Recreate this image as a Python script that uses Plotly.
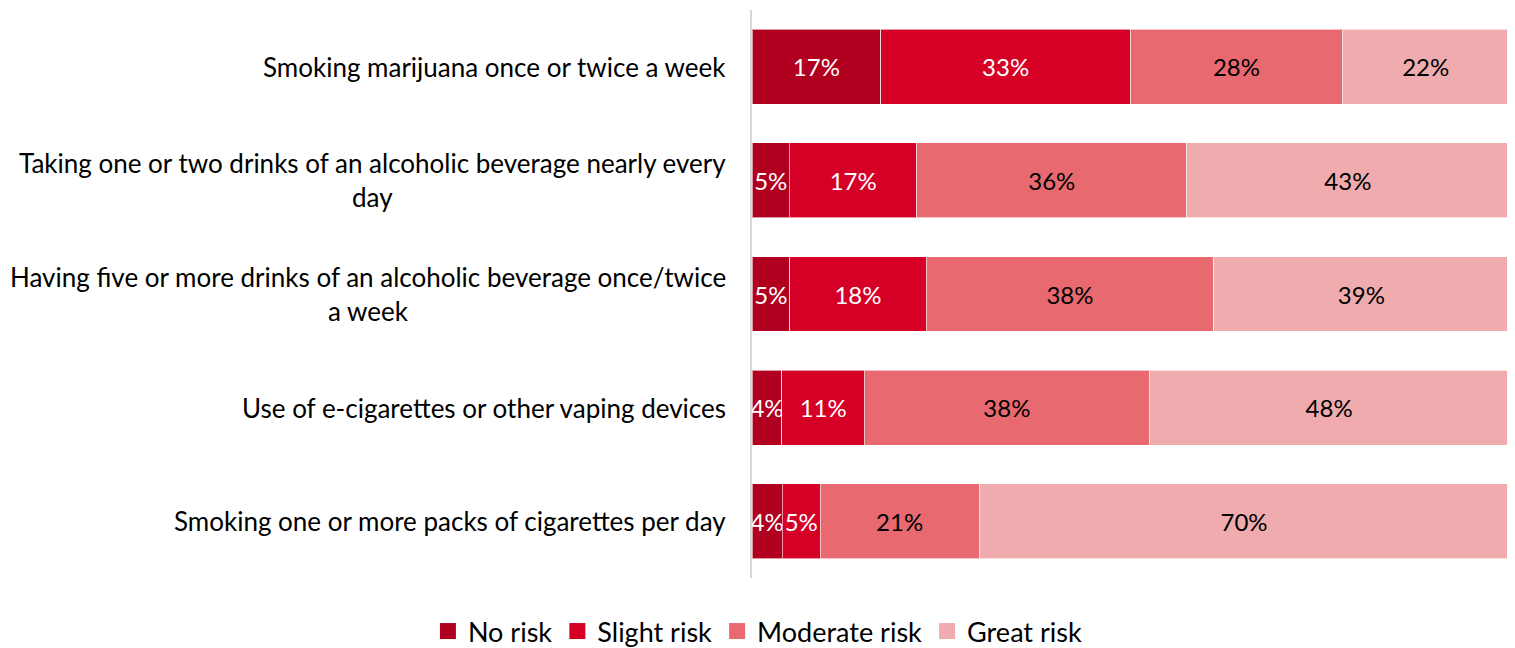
import plotly.graph_objects as go

categories = [
    "Smoking marijuana once or twice a week",
    "Taking one or two drinks of an alcoholic beverage nearly every<br>day",
    "Having five or more drinks of an alcoholic beverage once/twice<br>a week",
    "Use of e-cigarettes or other vaping devices",
    "Smoking one or more packs of cigarettes per day",
]
series_names = ["No risk", "Slight risk", "Moderate risk", "Great risk"]
no_risk = [17, 5, 5, 4, 4]
slight_risk = [33, 17, 18, 11, 5]
moderate_risk = [28, 36, 38, 38, 21]
great_risk = [22, 43, 39, 48, 70]

series_values = [no_risk, slight_risk, moderate_risk, great_risk]
colors = ["#B1001F", "#D60027", "#E8696F", "#EFABAD"]
text_colors = ["white", "white", "black", "black"]

FONT = "Lato"
fig = go.Figure()
for name, vals, col, tc in zip(series_names, series_values, colors, text_colors):
    fig.add_trace(go.Bar(
        y=categories, x=vals, name=name, orientation="h",
        marker=dict(color=col, line=dict(color="rgba(255,255,255,0.6)", width=1)),
        text=[f"{v}%" for v in vals], texttemplate="%{text}",
        textposition="inside", insidetextanchor="middle", textangle=0,
        constraintext="none", showlegend=False,
        textfont=dict(color=tc, size=24, family=FONT),
    ))

# legend entries with larger square swatches
for name, col in zip(series_names, colors):
    fig.add_trace(go.Scatter(
        x=[None], y=[None], mode="markers", name=name,
        marker=dict(symbol="square", size=16, color=col),
        showlegend=True, hoverinfo="skip",
    ))

for c in categories:
    fig.add_annotation(
        x=0, xref="paper", y=c, yref="y", text=c, showarrow=False,
        xanchor="right", align="center", xshift=-24,
        font=dict(size=26, family=FONT, color="black"),
    )

fig.update_layout(
    barmode="stack", barnorm="percent", bargap=0.34,
    width=1515, height=648,
    margin=dict(l=744, r=14, t=2, b=78),
    plot_bgcolor="white", paper_bgcolor="white",
    font=dict(family=FONT, size=25, color="black"),
    showlegend=True,
    legend=dict(orientation="h", x=0.495, xref="container", xanchor="center",
                y=0.0, yref="container", yanchor="bottom",
                font=dict(size=27, family=FONT), itemwidth=30,
                traceorder="normal"),
    xaxis=dict(range=[0, 100], showticklabels=False, showgrid=False,
               zeroline=False, showline=False, fixedrange=True),
    yaxis=dict(autorange="reversed", showticklabels=False, showgrid=False,
               showline=True, linecolor="#D9D9D9", linewidth=2, ticks=""),
)

fig.write_html("out.html")
